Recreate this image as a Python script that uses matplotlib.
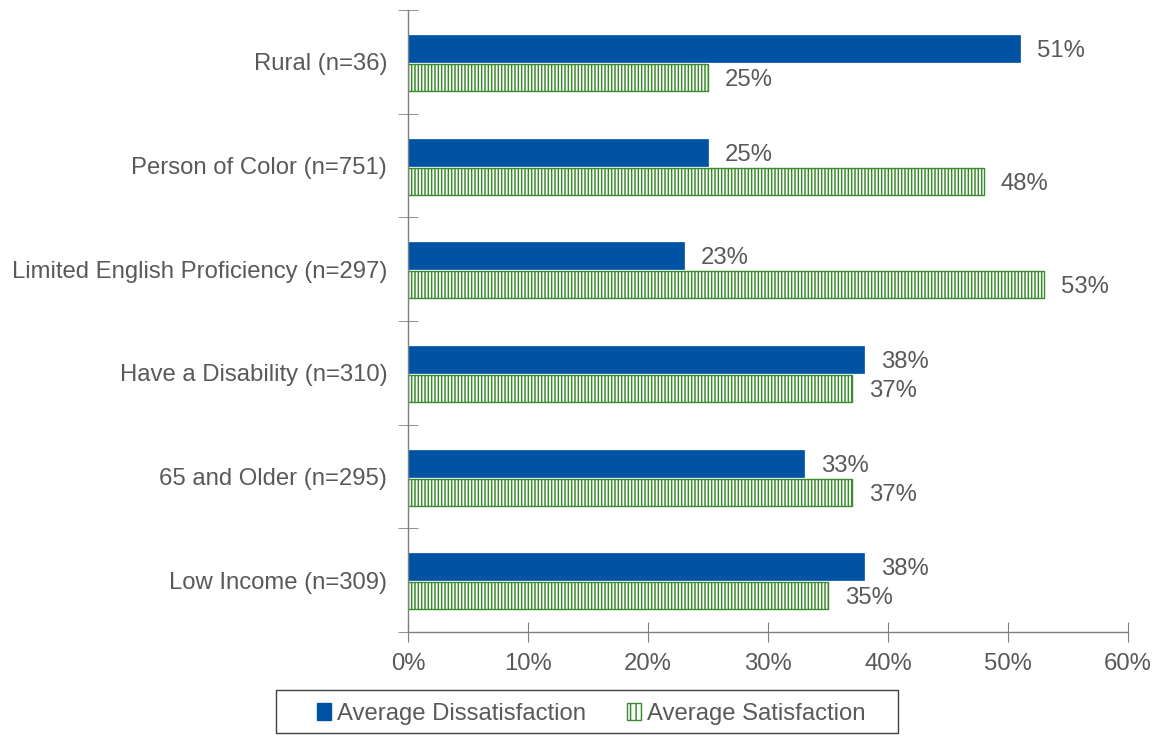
import matplotlib

matplotlib.use("Agg")

import matplotlib.pyplot as plt
import numpy as np
from matplotlib.patches import Patch, Rectangle

categories = [
    "Rural (n=36)",
    "Person of Color (n=751)",
    "Limited English Proficiency (n=297)",
    "Have a Disability (n=310)",
    "65 and Older (n=295)",
    "Low Income (n=309)",
]
dissatisfaction = [51, 25, 23, 38, 33, 38]
satisfaction = [25, 48, 53, 37, 37, 35]
x_ticks = [0, 10, 20, 30, 40, 50, 60]

BLUE = "#0053A4"
GREEN = "#3A8B2E"
TEXT = "#595959"
AXIS = "#7F7F7F"

plt.rcParams.update(
    {
        "font.family": ["Liberation Sans", "DejaVu Sans"],
        "font.size": 17.2,
        "text.color": TEXT,
        "hatch.linewidth": 1.1,
    }
)

fig = plt.figure(figsize=(11.56, 7.36), dpi=100)
ax = fig.add_axes([0.353, 0.1413, 0.6228, 0.8451])

y = np.arange(len(categories))
h = 0.26
ax.barh(y - 0.13, dissatisfaction, height=h, color=BLUE, edgecolor=BLUE, linewidth=0.5)
ax.barh(y + 0.15, satisfaction, height=h, color="white", edgecolor=GREEN,
        hatch="|||||", linewidth=1.0)

for yi, v in zip(y, dissatisfaction):
    ax.text(v + 1.4, yi - 0.13, f"{v}%", va="center_baseline", ha="left", color=TEXT)
for yi, v in zip(y, satisfaction):
    ax.text(v + 1.4, yi + 0.15, f"{v}%", va="center_baseline", ha="left", color=TEXT)

ax.set_xlim(0, 60)
ax.set_ylim(len(categories) - 0.5, -0.5)

ax.set_xticks(x_ticks)
ax.set_xticklabels([f"{t}%" for t in x_ticks])
ax.set_yticks(y)
ax.set_yticklabels(categories)
ax.set_yticks(np.arange(len(categories) + 1) - 0.5, minor=True)

for side in ("top", "right"):
    ax.spines[side].set_visible(False)
for side in ("left", "bottom"):
    ax.spines[side].set_color(AXIS)
    ax.spines[side].set_linewidth(1.0)

ax.tick_params(axis="y", which="major", length=0, pad=15, colors=TEXT)
ax.tick_params(axis="y", which="minor", length=14, direction="inout", color=AXIS)
ax.tick_params(axis="x", length=14, direction="inout", color=AXIS, pad=8)
ax.tick_params(axis="x", labelcolor=TEXT)
for lab in ax.get_yticklabels():
    lab.set_color(TEXT)

# legend entries without a frame; the box is drawn separately so it can be wider
handles = [
    Patch(facecolor=BLUE, edgecolor=BLUE, label="Average Dissatisfaction"),
    Patch(facecolor="white", edgecolor=GREEN, hatch="|||", label="Average Satisfaction"),
]
leg = fig.legend(
    handles=handles,
    loc="center",
    bbox_to_anchor=(591 / 1156, 1 - 714 / 736),
    ncol=2,
    frameon=False,
    handlelength=0.6,
    handleheight=0.75,
    handletextpad=0.25,
    columnspacing=1.7,
    borderpad=0.0,
    fontsize=17.2,
)
for t in leg.get_texts():
    t.set_color(TEXT)

fig.add_artist(
    Rectangle(
        (276 / 1156, 1 - 733 / 736),
        (898 - 276) / 1156,
        (733 - 690) / 736,
        transform=fig.transFigure,
        fill=False,
        edgecolor="#404040",
        linewidth=1.0,
    )
)

fig.savefig("out.png", dpi=100)
